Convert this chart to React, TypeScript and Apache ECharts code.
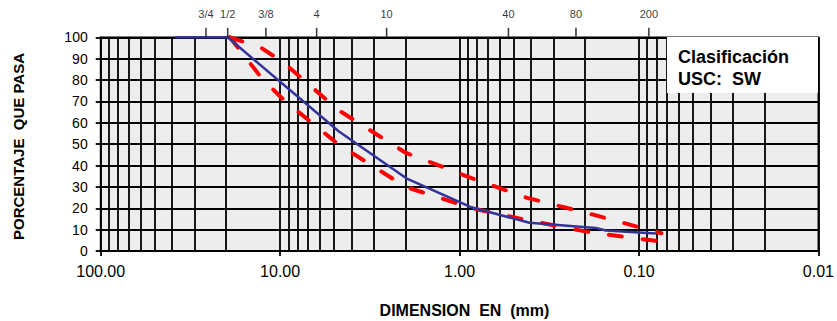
import React, { useEffect, useRef } from "react";
import * as echarts from "echarts";

// Sieve labels on the top edge and the particle size (mm) where each sits
const sieveLabels = ["3/4", "1/2", "3/8", "4", "10", "40", "80", "200"];
const sievePositions = [25.9, 19.6, 12.0, 6.26, 2.55, 0.534, 0.2245, 0.0881];

// Sample gradation curve (blue)
const sampleSize = [38.6, 19.6, 4.72, 1.98, 0.87, 0.408, 0.174, 0.153, 0.0805];
const samplePassing = [100, 100, 56, 34, 20.6, 13.2, 10.8, 9.6, 8.2];

// Specification limits (red dashed)
const limitSize = [19.05, 12.7, 9.5, 4.75, 2.0, 0.85, 0.425, 0.18, 0.075];
const upperLimit = [100, 95, 88, 66, 46, 34, 25, 17, 8.3];
const lowerLimit = [100, 81, 70.5, 50, 30, 20, 14.5, 8.5, 4.4];

// Axis settings
const xMin = 0.01;
const xMax = 100;
const yMin = 0;
const yMax = 100;
const yStep = 10;

const FONT = '"Liberation Sans", Arial, sans-serif';
const GRID_W = 1.8;

export default function App() {
  const ref = useRef<HTMLDivElement>(null);

  useEffect(() => {
    if (!ref.current) return;
    const chart = echarts.init(ref.current, undefined, { renderer: "svg" });

    const gridValues: number[] = [];
    for (let e = -2; e <= 1; e++) {
      for (let k = 1; k <= 9; k++) gridValues.push(Number((k * Math.pow(10, e)).toPrecision(6)));
    }

    const option: any = {
      animation: false,
      backgroundColor: "#ffffff",
      grid: {
        left: 100.7,
        right: 17.5,
        top: 37.3,
        bottom: 70,
        show: true,
        backgroundColor: "#ededed",
        borderColor: "#000",
        borderWidth: GRID_W,
      },
      xAxis: {
        type: "log",
        logBase: 10,
        min: xMin,
        max: xMax,
        inverse: true,
        axisLine: { show: true, lineStyle: { color: "#000", width: GRID_W } },
        axisTick: { show: true, length: 5, lineStyle: { color: "#000", width: GRID_W } },
        axisLabel: {
          fontSize: 16,
          color: "#000",
          fontFamily: FONT,
          margin: 12,
          formatter: (v: number) => v.toFixed(2),
        },
        splitLine: { show: false },
      },
      yAxis: {
        type: "value",
        min: yMin,
        max: yMax,
        interval: yStep,
        axisLine: { show: true, lineStyle: { color: "#000", width: GRID_W } },
        axisTick: { show: true, length: 5, lineStyle: { color: "#000", width: GRID_W } },
        axisLabel: { fontSize: 14, color: "#000", fontFamily: FONT, margin: 13 },
        splitLine: { show: true, lineStyle: { color: "#000", width: GRID_W } },
      },
      series: [
        {
          type: "line",
          data: [[1, 50]],
          showSymbol: false,
          symbol: "none",
          lineStyle: { opacity: 0 },
          silent: true,
          z: 1,
          markLine: {
            silent: true,
            symbol: ["none", "none"],
            label: { show: false },
            z: 1,
            lineStyle: { color: "#000", width: GRID_W, type: "solid" },
            emphasis: { disabled: true },
            data: gridValues.map((v) => ({ xAxis: v })),
          },
        },
        {
          name: "Límite superior",
          type: "line",
          data: limitSize.map((x, i) => [x, upperLimit[i]]),
          symbol: "none",
          clip: false,
          z: 3,
          lineStyle: { color: "#ff0000", width: 4, type: [13, 21], cap: "round" },
        },
        {
          name: "Límite inferior",
          type: "line",
          data: limitSize.map((x, i) => [x, lowerLimit[i]]),
          symbol: "none",
          clip: false,
          z: 3,
          lineStyle: { color: "#ff0000", width: 4, type: [13, 21], cap: "round" },
        },
        {
          name: "Muestra",
          type: "line",
          data: sampleSize.map((x, i) => [x, samplePassing[i]]),
          symbol: "none",
          clip: false,
          z: 4,
          lineStyle: { color: "#333399", width: 2.5 },
        },
        {
          name: "Tamices",
          type: "scatter",
          data: sievePositions.map((x, i) => ({ value: [x, yMax], name: sieveLabels[i] })),
          symbol: "rect",
          symbolSize: [1.5, 9],
          symbolOffset: [0, -5],
          itemStyle: { color: "#000" },
          clip: false,
          silent: true,
          z: 5,
          label: {
            show: true,
            position: "top",
            distance: 8,
            formatter: "{b}",
            fontSize: 11,
            color: "#000",
            fontFamily: FONT,
          },
        },
      ],
      graphic: [
        {
          type: "text",
          x: 18.7,
          y: 146.5,
          rotation: Math.PI / 2,
          style: {
            text: "PORCENTAJE  QUE PASA",
            align: "center",
            verticalAlign: "middle",
            font: `bold 15px ${FONT}`,
            fill: "#000",
          },
        },
        {
          type: "text",
          x: 464.5,
          y: 310,
          style: {
            text: "DIMENSION  EN  (mm)",
            align: "center",
            verticalAlign: "middle",
            font: `bold 16px ${FONT}`,
            fill: "#000",
          },
        },
        {
          type: "rect",
          z: 100,
          shape: { x: 667, y: 37, width: 151, height: 56 },
          style: { fill: "#ffffff" },
        },
        {
          type: "text",
          z: 101,
          x: 678,
          y: 56.7,
          style: {
            text: "Clasificación",
            align: "left",
            verticalAlign: "middle",
            font: `bold 18px ${FONT}`,
            fill: "#000",
          },
        },
        {
          type: "text",
          z: 101,
          x: 678,
          y: 79.3,
          style: {
            text: "USC:  SW",
            align: "left",
            verticalAlign: "middle",
            font: `bold 18px ${FONT}`,
            fill: "#000",
          },
        },
      ],
    };

    chart.setOption(option);
    return () => chart.dispose();
  }, []);

  return (
    <div
      ref={ref}
      style={{ position: "absolute", left: 0, top: 0, width: 837, height: 321 }}
    />
  );
}
